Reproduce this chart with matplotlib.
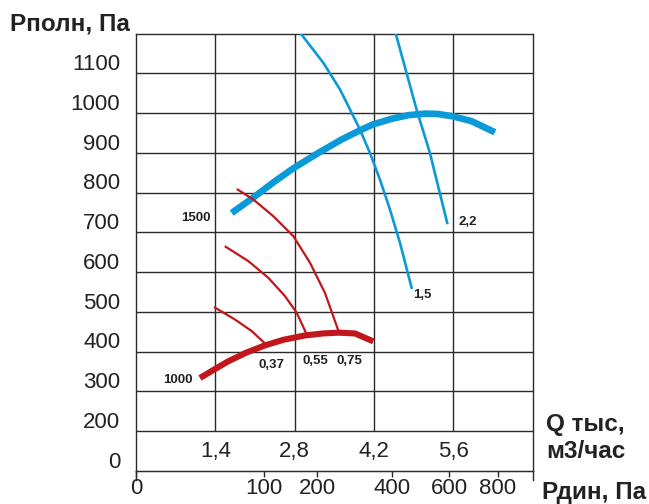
import numpy as np
import matplotlib
matplotlib.use("Agg")
import matplotlib.pyplot as plt
import matplotlib.transforms as mtransforms

plt.rcParams['font.family'] = ['Liberation Sans', 'DejaVu Sans']

BLUE = "#0a9ad8"
RED = "#c1161c"
GRID = "#2a2a2a"

# Q in thousand m3/h, P in Pa
q_ticks = [1.4, 2.8, 4.2, 5.6]
q_labels = ["1,4", "2,8", "4,2", "5,6"]
p_lines = [200, 300, 400, 500, 600, 700, 800, 900, 1000, 1100]
p_labels = ["0", "200", "300", "400", "500", "600", "700", "800", "900", "1000", "1100"]
p_label_pos = [100, 200, 300, 400, 500, 600, 700, 800, 900, 1000, 1100]
pdyn_ticks = [0, 100, 200, 400, 600, 800]

# fan curves
n1500_q = [1.689, 2.100, 2.453, 2.793, 3.217, 3.630, 3.983, 4.188, 4.512, 4.805,
           5.100, 5.334, 5.599, 5.924, 6.335]
n1500_p = [749, 791, 829, 863, 900, 934, 959, 972, 986, 995, 999, 998, 992, 980, 952]
n1000_q = [1.129, 1.40, 1.629, 1.95, 2.276, 2.60, 2.982, 3.30, 3.570, 3.865, 4.188]
n1000_p = [334, 357, 376, 398, 416, 430, 441, 446, 448, 446, 426]

# power lines, kW
kw15_q = [2.91, 3.305, 3.600, 3.953, 4.129, 4.306, 4.482, 4.659, 4.865]
kw15_p = [1200, 1127, 1060, 959, 900, 833, 758, 674, 561]
kw22_q = [4.585, 4.953, 5.188, 5.493]
kw22_p = [1200, 1009, 900, 724]
kw037_q = [1.394, 1.747, 2.042, 2.276]
kw037_p = [511, 481, 452, 421]
kw055_q = [1.583, 1.982, 2.335, 2.629, 2.836, 3.012]
kw055_p = [664, 628, 586, 540, 498, 444]
kw075_q = [1.795, 2.070, 2.423, 2.776, 3.070, 3.335, 3.582]
kw075_p = [808, 783, 741, 691, 624, 548, 449]

K = 0.2259  # Q = K * sqrt(Pdyn)

fig = plt.figure(figsize=(6.49, 5.04), dpi=100)
ax = fig.add_axes([0.2096, 0.0655, 0.611, 0.8676])
ax.set_xlim(0, 7.0)
ax.set_ylim(100, 1200)

for p in p_lines:
    ax.axhline(p, color=GRID, lw=1.0, zorder=1)
ax.vlines(q_ticks, 200, 1200, color=GRID, lw=1.0, zorder=1)
for s in ax.spines.values():
    s.set_color(GRID)
    s.set_linewidth(1.0)

# spines continue a little below the last line
for xa in (0, 1):
    ax.plot([xa, xa], [0, -0.021], transform=ax.transAxes, color=GRID,
            lw=1.0, clip_on=False)

ax.set_xticks([])
ax.set_yticks([])

ax.plot(n1500_q, n1500_p, color=BLUE, lw=4.8, solid_capstyle='butt',
        solid_joinstyle='round', zorder=3)
ax.plot(kw15_q, kw15_p, color=BLUE, lw=1.9, solid_joinstyle='round', zorder=3)
ax.plot(kw22_q, kw22_p, color=BLUE, lw=1.9, solid_joinstyle='round', zorder=3)
ax.plot(n1000_q, n1000_p, color=RED, lw=4.4, solid_capstyle='butt',
        solid_joinstyle='round', zorder=3)
ax.plot(kw037_q, kw037_p, color=RED, lw=1.6, solid_joinstyle='round', zorder=3)
ax.plot(kw055_q, kw055_p, color=RED, lw=1.6, solid_joinstyle='round', zorder=3)
ax.plot(kw075_q, kw075_p, color=RED, lw=1.6, solid_joinstyle='round', zorder=3)

# y labels just above the lines
ytrans = mtransforms.blended_transform_factory(ax.transAxes, ax.transData)
ytrans = ytrans + mtransforms.ScaledTranslation(0, 2.5 / 72, fig.dpi_scale_trans)
for pos, lab in zip(p_label_pos, p_labels):
    ax.text(-0.040, pos, lab, transform=ytrans, ha='right', va='baseline',
            fontsize=16, color="#222222")

for q, lab in zip(q_ticks, q_labels):
    ax.text(q, 150, lab, ha='center', va='center', fontsize=16, color="#222222")

sec = ax.secondary_xaxis('bottom', functions=(lambda q: (np.asarray(q) / K) ** 2,
                                              lambda p: K * np.sqrt(np.maximum(p, 0))))
sec.set_xticks(pdyn_ticks)
sec.tick_params(direction='out', length=4, width=1.0, color=GRID, labelsize=16,
                pad=1, labelcolor="#222222")
sec.spines['bottom'].set_color(GRID)

small = dict(fontsize=9.5, fontweight='bold', color="#222222", ha='center',
             va='center_baseline')
ax.text(1.05, 741, "1500", **small)
ax.text(0.73, 333, "1000", **small)
ax.text(2.40, 371, "0,37", **small)
ax.text(3.17, 380, "0,55", **small)
ax.text(3.76, 380, "0,75", **small)
ax.text(5.06, 546, "1,5", **small)
ax.text(5.85, 729, "2,2", **small)

big = dict(fontsize=17.5, fontweight='bold', color="#222222")
fig.text(10 / 649, 1 - 23.5 / 504, "Рполн, Па", ha='left', va='center', **big)
fig.text(546 / 649, 1 - 425 / 504, "Q тыс,", ha='left', va='center', **big)
fig.text(546 / 649, 1 - 451 / 504, "м3/час", ha='left', va='center', **big)
fig.text(542 / 649, 1 - 492 / 504, "Рдин, Па", ha='left', va='center', **big)

fig.savefig("out.png", dpi=100)
